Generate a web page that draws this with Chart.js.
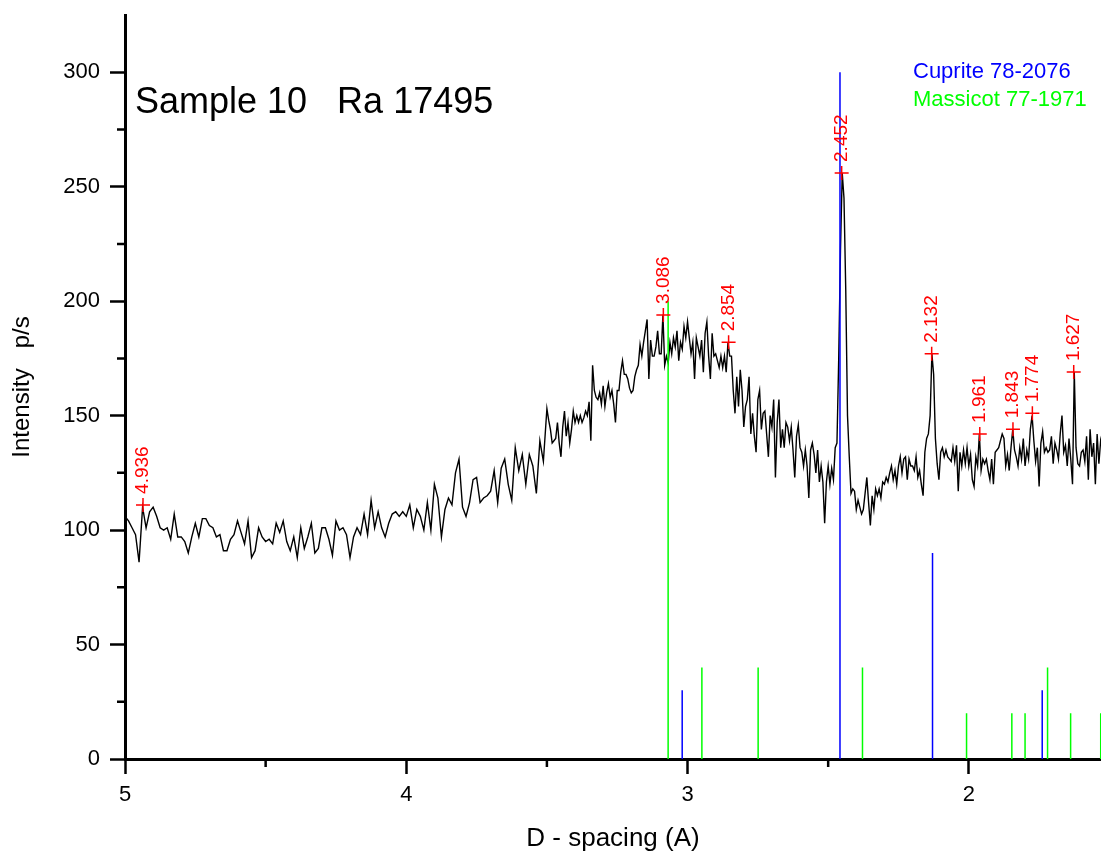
<!DOCTYPE html>
<html>
<head>
<meta charset="utf-8">
<title>Sample 10 Ra 17495</title>
<script src="https://cdn.jsdelivr.net/npm/chart.js@4.4.1/dist/chart.umd.min.js"></script>
<style>
  html, body { margin: 0; padding: 0; background: #fff; }
  #wrap { width: 1101px; height: 855px; }
</style>
</head>
<body>
<div id="wrap"><canvas id="xrd" width="1101" height="855"></canvas></div>
<script>
  // scan part 1: d = 5.0 down to 3.5125, one reading every 0.0125 A
  const coarseStart = 5.0;
  const coarseStep = 0.0125;
  const coarseCounts = [
    106,104,101,98,86,110,101,108,110,106,
    101,100,101,96,107,97,97,95,90,97,
    103,97,105,105,102,101,97,98,91,91,
    96,98,104,99,94,104,88,91,101,97,
    95,96,94,103,99,104,95,91,97,88,
    101,92,97,103,90,92,101,101,96,89,
    104,100,101,98,88,97,101,98,107,98,
    113,101,108,101,97,103,107,108,106,108,
    106,111,101,109,106,100,112,100,120,114,
    97,109,114,111,125,131,110,106,112,122,
    123,112,114,115,117,126,112,127,131,120,
    113,136,126,133,120,133,128,116,139,130
  ];

  // scan part 2: d = 3.5 down to 1.525, one reading every 0.00625 A
  const fineStart = 3.5;
  const fineStep = 0.00625;
  const fineCounts = [
    153,148,144,138,139,140,147,138,132,145,
    152,141,147,138,144,152,147,150,147,150,
    147,149,152,150,156,139,172,161,158,157,
    160,155,163,154,160,164,158,161,155,147,
    161,161,169,174,168,168,166,162,160,161,
    167,170,172,181,176,182,187,192,166,183,
    176,176,180,187,177,177,194,172,176,173,
    182,177,184,180,187,174,182,179,189,184,
    191,184,177,182,166,184,180,176,183,169,
    186,191,176,166,186,176,177,174,171,176,
    171,176,169,182,176,176,161,151,167,154,
    170,161,145,154,157,167,142,151,141,134,
    157,161,144,151,152,142,132,150,145,157,
    123,147,157,136,144,136,147,145,139,145,
    135,123,141,146,136,134,128,135,128,114,
    135,138,133,125,135,121,128,121,103,121,
    128,120,127,122,136,138,175,222,256,245,
    205,150,132,116,118,117,109,113,110,107,
    109,116,123,112,102,115,109,118,115,118,
    114,121,120,123,121,125,128,122,126,120,
    128,132,125,131,132,122,131,128,128,126,
    132,123,126,120,115,134,140,142,150,177,
    168,140,129,122,134,136,132,135,132,131,
    130,136,130,137,117,134,128,135,129,136,
    128,133,122,119,132,128,142,126,131,129,
    131,126,122,131,120,134,135,136,139,142,
    140,128,133,126,136,144,135,132,128,136,
    131,140,128,135,131,144,150,139,130,136,
    119,138,143,134,136,134,135,141,129,138,
    135,131,142,150,134,137,128,140,131,120,
    169,136,129,128,134,135,130,141,122,144,
    132,138,120,142,129,139,135
  ];

  // marked peaks
  const peakD = [4.936, 3.086, 2.854, 2.452, 2.132, 1.961, 1.843, 1.774, 1.627];
  const peakI = [111, 194, 182, 256, 177, 142, 144, 151, 169];

  // reference patterns
  const cupriteD = [3.019, 2.458, 2.129, 1.739];
  const cupriteI = [30, 300, 90, 30];
  const massicotD = [3.069, 2.949, 2.749, 2.378, 2.008, 1.847, 1.800, 1.720, 1.638, 1.531];
  const massicotI = [200, 40, 40, 40, 20, 20, 20, 40, 20, 20];

  const xTicks = [5, 4, 3, 2];
  const xMinor = [4.5, 3.5, 2.5];
  const yTicks = [0, 50, 100, 150, 200, 250, 300];
  const yMinor = [25, 75, 125, 175, 225, 275];

  const FONT = 'Arial, "Liberation Sans", sans-serif';
  Chart.defaults.font.family = FONT;
  Chart.defaults.color = '#000';

  const scan = coarseCounts.map((v, i) => ({ x: coarseStart - i * coarseStep, y: v }))
    .concat(fineCounts.map((v, i) => ({ x: fineStart - i * fineStep, y: v })));

  const sticks = (ds, hs) => {
    const pts = [];
    ds.forEach((d, i) => {
      pts.push({ x: d, y: 0 }, { x: d, y: hs[i] }, { x: d, y: null });
    });
    return pts;
  };

  const overlay = {
    id: 'overlay',
    afterDatasetsDraw(chart) {
      const ctx = chart.ctx;
      const meta = chart.getDatasetMeta(0);
      ctx.save();
      ctx.fillStyle = '#ff0000';
      ctx.font = '19px ' + FONT;
      ctx.textAlign = 'left';
      ctx.textBaseline = 'middle';
      meta.data.forEach((el, i) => {
        ctx.save();
        ctx.translate(el.x, el.y - 11);
        ctx.rotate(-Math.PI / 2);
        ctx.fillText(peakD[i].toFixed(3), 0, 0);
        ctx.restore();
      });
      ctx.restore();
    },
    afterDraw(chart) {
      const { ctx, scales: { x, y } } = chart;
      ctx.save();
      ctx.strokeStyle = '#000';
      ctx.lineWidth = 2.5;
      ctx.beginPath();
      xMinor.forEach(v => {
        const px = x.getPixelForValue(v);
        ctx.moveTo(px, x.top);
        ctx.lineTo(px, x.top + 8);
      });
      yMinor.forEach(v => {
        const py = y.getPixelForValue(v);
        ctx.moveTo(y.right - 8, py);
        ctx.lineTo(y.right, py);
      });
      ctx.stroke();

      ctx.textBaseline = 'alphabetic';
      ctx.textAlign = 'left';
      ctx.fillStyle = '#000';
      ctx.font = '36px ' + FONT;
      ctx.fillText('Sample 10   Ra 17495', 135, 113);
      ctx.font = '22px ' + FONT;
      ctx.fillStyle = '#0000ff';
      ctx.fillText('Cuprite 78-2076', 913, 78);
      ctx.fillStyle = '#00ff00';
      ctx.fillText('Massicot 77-1971', 913, 106);
      ctx.restore();
    }
  };

  window.addEventListener('DOMContentLoaded', () => {
    new Chart(document.getElementById('xrd'), {
      type: 'scatter',
      data: {
        datasets: [
          {
            label: 'peaks',
            data: peakD.map((d, i) => ({ x: d, y: peakI[i] })),
            pointStyle: 'cross',
            pointRadius: 7,
            pointBorderWidth: 1.5,
            borderColor: '#ff0000',
            backgroundColor: '#ff0000',
            showLine: false
          },
          {
            label: 'Cuprite 78-2076',
            data: sticks(cupriteD, cupriteI),
            showLine: true,
            spanGaps: false,
            borderColor: '#0000ff',
            borderWidth: 1.5,
            pointRadius: 0
          },
          {
            label: 'Massicot 77-1971',
            data: sticks(massicotD, massicotI),
            showLine: true,
            spanGaps: false,
            borderColor: '#00ff00',
            borderWidth: 1.5,
            pointRadius: 0
          },
          {
            label: 'scan',
            data: scan,
            showLine: true,
            borderColor: '#000',
            borderWidth: 1.4,
            pointRadius: 0,
            tension: 0
          }
        ]
      },
      options: {
        responsive: false,
        animation: false,
        devicePixelRatio: 1,
        layout: { autoPadding: false, padding: { top: 15, right: 0, left: 0, bottom: 0 } },
        plugins: {
          legend: { display: false },
          tooltip: { enabled: false }
        },
        scales: {
          x: {
            type: 'linear',
            reverse: true,
            min: 1.53,
            max: 5,
            afterFit: s => { s.height = 96; s.paddingLeft = 0; s.paddingRight = 0; },
            afterBuildTicks: s => { s.ticks = xTicks.map(v => ({ value: v })); },
            border: { display: true, width: 3, color: '#000' },
            grid: { drawOnChartArea: false, drawTicks: true, tickLength: 15, tickWidth: 2.5, tickColor: '#000' },
            ticks: { autoSkip: false, maxRotation: 0, padding: 8, font: { size: 22 }, color: '#000' },
            title: { display: true, text: 'D - spacing (A)', font: { size: 26 }, color: '#000', padding: { top: 0, bottom: 1 } }
          },
          y: {
            type: 'linear',
            min: 0,
            max: 325,
            afterFit: s => { s.width = 125; s.paddingTop = 0; s.paddingBottom = 0; },
            afterBuildTicks: s => { s.ticks = yTicks.map(v => ({ value: v })); },
            border: { display: true, width: 3, color: '#000' },
            grid: { drawOnChartArea: false, drawTicks: true, tickLength: 15, tickWidth: 2.5, tickColor: '#000' },
            ticks: { autoSkip: false, padding: 10, font: { size: 22 }, color: '#000' },
            title: { display: true, text: 'Intensity   p/s', font: { size: 24 }, color: '#000', padding: { top: 8, bottom: 0 } }
          }
        }
      },
      plugins: [overlay]
    });
  });
</script>
</body>
</html>
